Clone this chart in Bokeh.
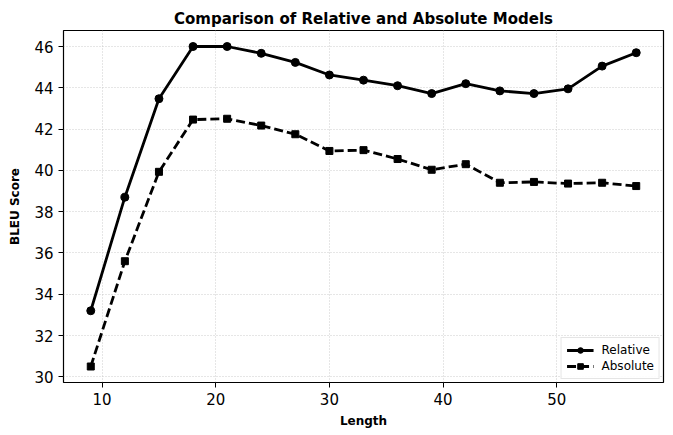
from bokeh.plotting import figure
from bokeh.embed import file_html
from bokeh.resources import INLINE
from bokeh.models import Range1d, Legend, LegendItem, FixedTicker

lengths = [9, 12, 15, 18, 21, 24, 27, 30, 33, 36, 39, 42, 45, 48, 51, 54, 57]
relative = [33.2, 38.7, 43.47, 46.0, 46.0, 45.67, 45.23, 44.62, 44.37, 44.1, 43.72, 44.2, 43.85, 43.72, 43.95, 45.05, 45.7]
absolute = [30.5, 35.6, 39.93, 42.46, 42.5, 42.17, 41.75, 40.94, 40.98, 40.55, 40.03, 40.3, 39.4, 39.44, 39.36, 39.4, 39.24]
x_ticks = [10, 20, 30, 40, 50]
y_ticks = [30, 32, 34, 36, 38, 40, 42, 44, 46]

FONT = "DejaVu Sans"

p = figure(width=668, height=430, output_backend="svg", toolbar_location=None,
           x_range=Range1d(6.6, 59.4), y_range=Range1d(29.725, 46.775),
           min_border_left=63, min_border_right=5, min_border_top=30, min_border_bottom=42)

p.title.text = "Comparison of Relative and Absolute Models"
p.title.align = "center"
p.title.text_font = FONT
p.title.text_font_size = "15px"
p.title.text_font_style = "bold"
p.title.text_color = "black"
p.title.offset = 0
p.title.standoff = 6

p.outline_line_color = "black"
p.outline_line_width = 1.2

for ax in (p.xaxis, p.yaxis):
    ax.axis_line_color = None
    ax.major_tick_line_color = "black"
    ax.major_tick_in = 0
    ax.major_tick_out = 5
    ax.minor_tick_line_color = None
    ax.major_label_text_font = FONT
    ax.major_label_text_font_size = "15px"
    ax.major_label_text_color = "black"
    ax.axis_label_text_font = FONT
    ax.axis_label_text_font_size = "12px"
    ax.axis_label_text_font_style = "bold"
    ax.axis_label_text_color = "black"

p.xaxis.ticker = FixedTicker(ticks=x_ticks)
p.yaxis.ticker = FixedTicker(ticks=y_ticks)
p.xaxis.axis_label = "Length"
p.yaxis.axis_label = "BLEU Score"
p.xaxis.axis_label_standoff = 6
p.yaxis.axis_label_standoff = 9
p.xaxis.major_label_standoff = 5
p.yaxis.major_label_standoff = 5

p.xgrid.grid_line_color = "#c0c0c0"
p.ygrid.grid_line_color = "#c0c0c0"
p.xgrid.grid_line_dash = "1 2"
p.ygrid.grid_line_dash = "1 2"
p.xgrid.grid_line_width = 0.8
p.ygrid.grid_line_width = 0.8

r1 = p.line(lengths, relative, line_color="black", line_width=2.8)
m1 = p.scatter(lengths, relative, marker="circle", size=8, fill_color="black", line_color="black")
r2 = p.line(lengths, absolute, line_color="black", line_width=2.8, line_dash="9 4")
m2 = p.scatter(lengths, absolute, marker="square", size=7, fill_color="black", line_color="black")

legend = Legend(items=[LegendItem(label="Relative", renderers=[r1, m1]),
                       LegendItem(label="Absolute", renderers=[r2, m2])],
                location="bottom_right")
legend.label_text_font = FONT
legend.label_text_font_size = "12px"
legend.label_text_color = "black"
legend.border_line_color = "#cccccc"
legend.border_line_width = 1
legend.background_fill_alpha = 0.9
legend.glyph_width = 27
legend.glyph_height = 14
legend.spacing = 2
legend.padding = 5
legend.margin = 3
legend.label_standoff = 8
legend.label_height = 14
p.add_layout(legend)

open("out.html", "w").write(file_html(p, INLINE))
